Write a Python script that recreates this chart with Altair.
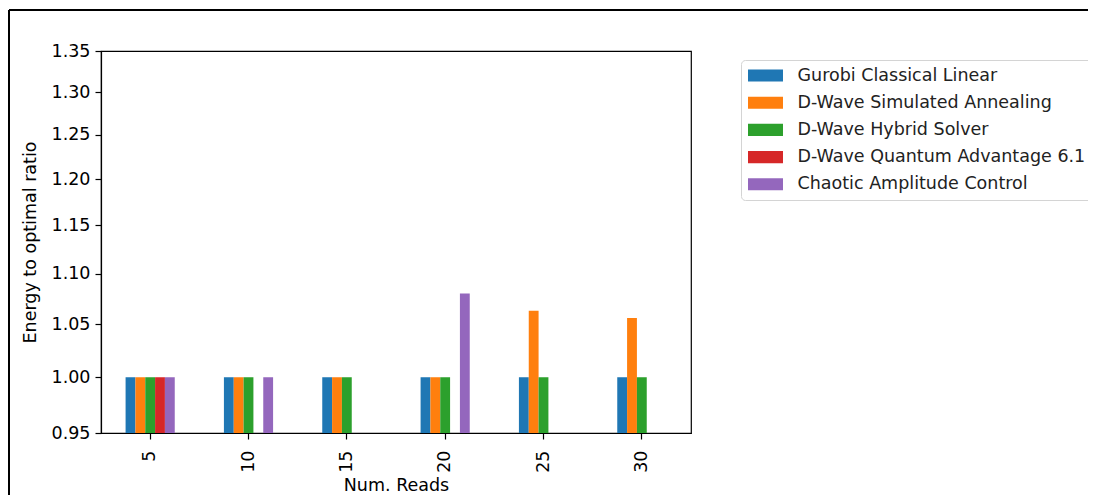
import altair as alt
import pandas as pd

reads = ["5", "10", "15", "20", "25", "30"]
series = [
    "Gurobi Classical Linear",
    "D-Wave Simulated Annealing",
    "D-Wave Hybrid Solver",
    "D-Wave Quantum Advantage 6.1",
    "Chaotic Amplitude Control",
]
colors = ["#1f77b4", "#ff7f0e", "#2ca02c", "#d62728", "#9467bd"]

gurobi = [1.0, 1.0, 1.0, 1.0, 1.0, 1.0]
sim_annealing = [1.0, 1.0, 1.0, 1.0, 1.063, 1.056]
hybrid = [1.0, 1.0, 1.0, 1.0, 1.0, 1.0]
quantum_adv = [1.0, None, None, None, None, None]
chaotic = [1.0, 1.0, None, 1.08, None, None]

y_ticks = [0.95, 1.00, 1.05, 1.10, 1.15, 1.20, 1.25, 1.30, 1.35]

rows = []
for name, vals in zip(series, [gurobi, sim_annealing, hybrid, quantum_adv, chaotic]):
    for r, v in zip(reads, vals):
        if v is not None:
            rows.append({"reads": r, "series": name, "ratio": v})
df = pd.DataFrame(rows)

FONT = "DejaVu Sans"
W, H = 590, 382

bars = alt.Chart(df).mark_bar(opacity=1).encode(
    x=alt.X("reads:N", sort=reads,
            scale=alt.Scale(paddingInner=0.5, paddingOuter=0.25),
            axis=alt.Axis(title="Num. Reads", labelAngle=270, labelPadding=11,
                          tickSize=6, titlePadding=4)),
    xOffset=alt.XOffset("series:N", sort=series,
                        scale=alt.Scale(domain=series, paddingInner=0, paddingOuter=0)),
    y=alt.Y("ratio:Q", stack=None,
            scale=alt.Scale(type="log", domain=[0.95, 1.35], nice=False, zero=False),
            axis=alt.Axis(title="Energy to optimal ratio", values=y_ticks, format=".2f",
                          tickSize=6, labelPadding=5, titlePadding=12)),
    y2=alt.Y2(datum=0.95),
    color=alt.Color("series:N", sort=series,
                    scale=alt.Scale(domain=series, range=colors),
                    legend=alt.Legend(title=None, orient="none", legendX=640, legendY=9,
                                      symbolType="M-2,-0.69L2,-0.69L2,0.69L-2,0.69Z",
                                      symbolSize=306, symbolStrokeWidth=0, symbolOffset=9,
                                      labelFontSize=17.5, labelFont=FONT, labelColor="#222222",
                                      labelLimit=1000,
                                      labelOffset=23, rowPadding=9.2, padding=6.5,
                                      strokeColor="#d4d4d4", cornerRadius=4, fillColor="white")),
)

frame_top = alt.Chart(df).mark_rule(color="black", strokeWidth=2).encode(
    x=alt.value(-92), x2=alt.value(1100), y=alt.value(-41)
)
frame_left = alt.Chart(df).mark_rule(color="black", strokeWidth=2).encode(
    x=alt.value(-92), y=alt.value(-41), y2=alt.value(470)
)

chart = alt.layer(bars, frame_top, frame_left).properties(
    width=W, height=H,
    title=alt.TitleParams("Energy to optimal ratio. Overlap %: 40-60", font=FONT,
                          fontSize=21, fontWeight="normal", anchor="middle",
                          frame="group", offset=8, color="black"),
    autosize=alt.AutoSizeParams(type="none"),
    padding={"left": 93, "top": 43, "right": 397, "bottom": 62},
).configure(background="white").configure_view(
    stroke="black", strokeWidth=1.2
).configure_axis(
    grid=False, domainColor="black", tickColor="black", labelColor="black",
    titleColor="black", labelFont=FONT, titleFont=FONT, labelFontSize=17.5,
    titleFontSize=17.5, titleFontWeight="normal", domainWidth=1.2, tickWidth=1.2
)

chart.save("out.html", embed_options={"renderer": "svg", "actions": False})
